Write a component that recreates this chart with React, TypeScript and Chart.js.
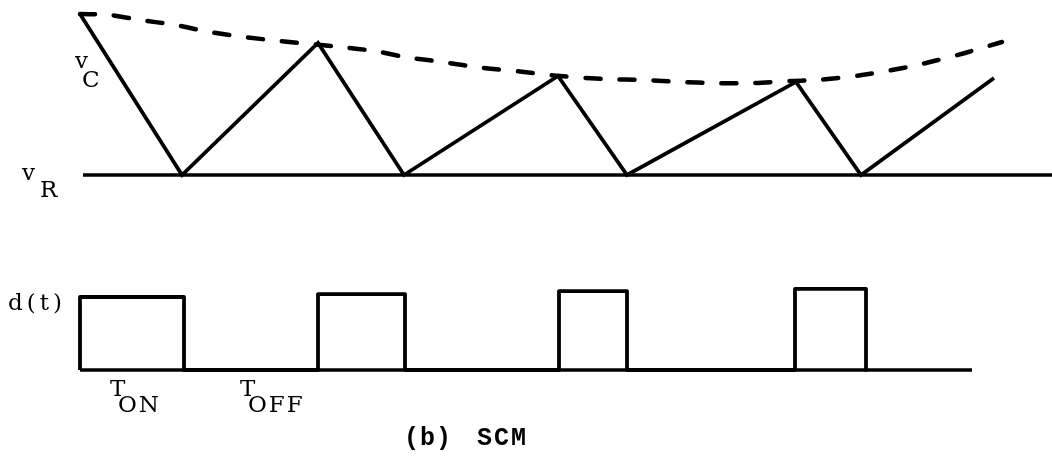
import { useEffect, useRef } from "react";
import { Chart, registerables } from "chart.js";

Chart.register(...registerables);

// ---- data (time along the page in arbitrary units, voltages normalised) ----
// capacitor voltage vC (triangle wave), 0 = reference level vR
const capTime = [80, 182, 318, 404, 558, 627, 796, 861, 994];
const capVolt = [1.0, 0, 0.82, 0, 0.615, 0, 0.578, 0, 0.602];

// dashed envelope of the vC peaks
const envTime = [80, 110, 140, 175, 210, 245, 280, 340, 375, 405, 442, 483, 524, 560, 605, 645, 680, 715, 752, 790, 818, 862, 908, 938, 965, 1002];
const envVolt = [1.0, 0.994, 0.963, 0.932, 0.888, 0.857, 0.832, 0.795, 0.77, 0.733, 0.702, 0.665, 0.64, 0.615, 0.596, 0.59, 0.578, 0.571, 0.571, 0.584, 0.59, 0.621, 0.671, 0.714, 0.758, 0.826];

// reference level vR
const refTime = [83, 1052];
const refVolt = [0, 0];

// switching signal d(t)
const onStart = [80, 318, 559, 795];
const onEnd = [184, 405, 627, 866];
const onLevel = [1.0, 1.04, 1.08, 1.11];
const dBaseTime = [80, 972];

const W = 1052;
const H = 456;

type Lbl = { text: string; x: number; y: number; font: string; spacing: number };
const SERIF = "'DejaVu Serif'";
const MONO = "'Liberation Mono'";
const labels: Lbl[] = [
  { text: "v", x: 75, y: 68, font: `23px ${SERIF}`, spacing: 0 },
  { text: "C", x: 82, y: 87, font: `23px ${SERIF}`, spacing: 0 },
  { text: "v", x: 22, y: 180, font: `23px ${SERIF}`, spacing: 0 },
  { text: "R", x: 40, y: 197, font: `23px ${SERIF}`, spacing: 0 },
  { text: "d(t)", x: 8, y: 310, font: `23px ${SERIF}`, spacing: 4 },
  { text: "T", x: 110, y: 396, font: `23px ${SERIF}`, spacing: 0 },
  { text: "ON", x: 118, y: 412, font: `23px ${SERIF}`, spacing: 2 },
  { text: "T", x: 240, y: 396, font: `23px ${SERIF}`, spacing: 0 },
  { text: "OFF", x: 248, y: 412, font: `23px ${SERIF}`, spacing: 2 },
  { text: "(b)", x: 404, y: 445, font: `bold 25px ${MONO}`, spacing: 1 },
  { text: "SCM", x: 477, y: 445, font: `bold 25px ${MONO}`, spacing: 2 },
];

// axis ranges so that the two panels fall where they do in the figure
function range(zeroPx: number, onePx: number) {
  const unit = zeroPx - onePx;
  const span = H / unit;
  const max = zeroPx / unit;
  return { min: max - span, max };
}

export default function App() {
  const ref = useRef<HTMLCanvasElement | null>(null);

  useEffect(() => {
    if (!ref.current) return;

    const cap = capTime.map((t, i) => ({ x: t, y: capVolt[i] }));
    const env = envTime.map((t, i) => ({ x: t, y: envVolt[i] }));
    const refl = refTime.map((t, i) => ({ x: t, y: refVolt[i] }));
    const dBase = dBaseTime.map((t) => ({ x: t, y: 0 }));
    const d: { x: number; y: number }[] = [];
    onStart.forEach((s, i) => {
      d.push({ x: s, y: 0 }, { x: s, y: onLevel[i] }, { x: onEnd[i], y: onLevel[i] }, { x: onEnd[i], y: 0 });
    });

    const vR = range(175, 14);
    const dR = range(370, 297);

    const textPlugin = {
      id: "labels",
      afterDraw(chart: Chart) {
        const ctx = chart.ctx;
        ctx.save();
        ctx.fillStyle = "#000";
        ctx.textBaseline = "alphabetic";
        ctx.textAlign = "left";
        for (const l of labels) {
          ctx.font = l.font;
          (ctx as any).letterSpacing = l.spacing + "px";
          ctx.fillText(l.text, l.x, l.y);
        }
        ctx.restore();
      },
    };

    const common = {
      borderColor: "#000",
      pointRadius: 0,
      fill: false,
      showLine: true,
    };

    const chart = new Chart(ref.current, {
      type: "scatter",
      data: {
        datasets: [
          { ...common, label: "vR", data: refl, yAxisID: "v", borderWidth: 3.5 },
          { ...common, label: "vC", data: cap, yAxisID: "v", borderWidth: 3.8, borderJoinStyle: "miter", tension: 0 },
          {
            ...common,
            label: "envelope",
            data: env,
            yAxisID: "v",
            borderWidth: 4.5,
            borderDash: [15, 19],
            borderCapStyle: "round",
            tension: 0.3,
          },
          { ...common, label: "d base", data: dBase, yAxisID: "d", borderWidth: 3.5 },
          { ...common, label: "d(t)", data: d, yAxisID: "d", borderWidth: 3.8, borderJoinStyle: "round", tension: 0 },
        ],
      },
      options: {
        animation: false,
        responsive: false,
        devicePixelRatio: 1,
        layout: { padding: 0 },
        plugins: { legend: { display: false }, tooltip: { enabled: false } },
        scales: {
          x: { type: "linear", min: 0, max: W, display: false },
          v: { type: "linear", position: "left", min: vR.min, max: vR.max, display: false },
          d: { type: "linear", position: "right", min: dR.min, max: dR.max, display: false },
        },
      } as any,
      plugins: [textPlugin],
    });

    return () => chart.destroy();
  }, []);

  return (
    <div style={{ position: "fixed", left: 0, top: 0, width: W, height: H, background: "#fff" }}>
      <canvas ref={ref} width={W} height={H} style={{ width: W, height: H, display: "block" }} />
    </div>
  );
}
